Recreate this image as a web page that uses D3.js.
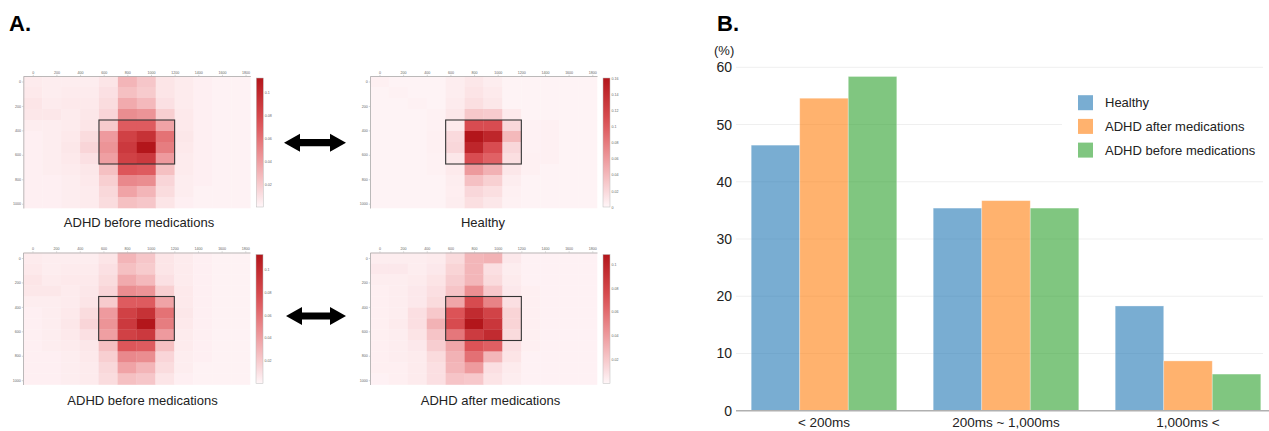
<!DOCTYPE html>
<html>
<head>
<meta charset="utf-8">
<script src="https://cdn.jsdelivr.net/npm/d3@7"></script>
<style>
  body { margin: 0; background: #fff; }
  svg { display: block; font-family: "Liberation Sans", Arial, sans-serif; }
</style>
</head>
<body>
<svg id="fig" width="1269" height="431"></svg>
<script>
// ---------- data: panel B ----------
const categories = ["< 200ms", "200ms ~ 1,000ms", "1,000ms <"];
const seriesNames = ["Healthy", "ADHD after medications", "ADHD before medications"];
const healthyPct = [46.4, 35.4, 18.3];
const afterPct = [54.6, 36.7, 8.7];
const beforePct = [58.4, 35.4, 6.4];
const yTicks = [0, 10, 20, 30, 40, 50, 60];

// ---------- data: panel A (12 x 12 gaze heatmaps, rows top->bottom) ----------
const heatXTicks = [0, 200, 400, 600, 800, 1000, 1200, 1400, 1600, 1800];
const heatYTicks = [0, 200, 400, 600, 800, 1000];

const beforeMeds = [
  [0.005, 0.004, 0.004, 0.004, 0.008, 0.030, 0.022, 0.008, 0.005, 0.003, 0.002, 0.002],
  [0.006, 0.004, 0.005, 0.005, 0.010, 0.025, 0.020, 0.008, 0.005, 0.003, 0.002, 0.002],
  [0.008, 0.005, 0.006, 0.006, 0.012, 0.035, 0.028, 0.010, 0.005, 0.003, 0.002, 0.002],
  [0.007, 0.007, 0.005, 0.007, 0.015, 0.048, 0.045, 0.018, 0.006, 0.003, 0.002, 0.002],
  [0.004, 0.004, 0.005, 0.008, 0.020, 0.070, 0.070, 0.038, 0.006, 0.003, 0.002, 0.002],
  [0.003, 0.004, 0.006, 0.012, 0.042, 0.085, 0.095, 0.060, 0.007, 0.003, 0.002, 0.002],
  [0.003, 0.004, 0.007, 0.015, 0.045, 0.090, 0.113, 0.055, 0.006, 0.003, 0.002, 0.002],
  [0.003, 0.004, 0.006, 0.010, 0.040, 0.085, 0.090, 0.042, 0.005, 0.003, 0.002, 0.002],
  [0.003, 0.004, 0.005, 0.007, 0.025, 0.072, 0.070, 0.025, 0.005, 0.003, 0.002, 0.002],
  [0.003, 0.003, 0.004, 0.006, 0.018, 0.050, 0.048, 0.015, 0.004, 0.003, 0.002, 0.002],
  [0.003, 0.003, 0.004, 0.005, 0.014, 0.038, 0.030, 0.012, 0.004, 0.002, 0.002, 0.002],
  [0.003, 0.003, 0.004, 0.005, 0.012, 0.025, 0.022, 0.008, 0.003, 0.002, 0.002, 0.002]
];

const healthy = [
  [0.004, 0.002, 0.002, 0.002, 0.006, 0.010, 0.006, 0.002, 0.002, 0.002, 0.002, 0.002],
  [0.002, 0.003, 0.002, 0.002, 0.006, 0.012, 0.008, 0.002, 0.002, 0.002, 0.002, 0.002],
  [0.002, 0.002, 0.003, 0.002, 0.007, 0.015, 0.010, 0.002, 0.002, 0.002, 0.002, 0.002],
  [0.002, 0.002, 0.002, 0.003, 0.010, 0.030, 0.028, 0.008, 0.002, 0.002, 0.002, 0.002],
  [0.002, 0.002, 0.002, 0.003, 0.008, 0.110, 0.110, 0.020, 0.003, 0.004, 0.002, 0.002],
  [0.002, 0.002, 0.002, 0.004, 0.018, 0.160, 0.145, 0.040, 0.003, 0.004, 0.002, 0.002],
  [0.002, 0.002, 0.002, 0.004, 0.020, 0.145, 0.110, 0.020, 0.003, 0.004, 0.002, 0.002],
  [0.002, 0.002, 0.002, 0.003, 0.010, 0.110, 0.095, 0.015, 0.004, 0.004, 0.002, 0.002],
  [0.002, 0.002, 0.002, 0.003, 0.008, 0.060, 0.045, 0.010, 0.004, 0.002, 0.002, 0.002],
  [0.002, 0.002, 0.002, 0.002, 0.006, 0.035, 0.025, 0.006, 0.002, 0.002, 0.002, 0.002],
  [0.002, 0.002, 0.002, 0.002, 0.005, 0.020, 0.015, 0.004, 0.002, 0.002, 0.002, 0.002],
  [0.002, 0.002, 0.002, 0.002, 0.006, 0.015, 0.010, 0.003, 0.002, 0.002, 0.002, 0.002]
];

const afterMeds = [
  [0.004, 0.004, 0.004, 0.005, 0.012, 0.028, 0.030, 0.006, 0.002, 0.002, 0.002, 0.002],
  [0.006, 0.006, 0.004, 0.006, 0.015, 0.028, 0.010, 0.004, 0.002, 0.002, 0.002, 0.002],
  [0.004, 0.004, 0.005, 0.008, 0.018, 0.028, 0.012, 0.005, 0.002, 0.002, 0.002, 0.002],
  [0.003, 0.004, 0.006, 0.010, 0.022, 0.045, 0.020, 0.006, 0.003, 0.002, 0.002, 0.002],
  [0.003, 0.004, 0.006, 0.012, 0.035, 0.075, 0.050, 0.010, 0.003, 0.002, 0.002, 0.002],
  [0.003, 0.004, 0.010, 0.020, 0.070, 0.095, 0.080, 0.015, 0.003, 0.002, 0.002, 0.002],
  [0.003, 0.005, 0.010, 0.030, 0.075, 0.108, 0.088, 0.015, 0.003, 0.002, 0.002, 0.002],
  [0.003, 0.004, 0.008, 0.022, 0.055, 0.085, 0.095, 0.012, 0.003, 0.002, 0.002, 0.002],
  [0.003, 0.004, 0.006, 0.018, 0.035, 0.070, 0.065, 0.010, 0.003, 0.002, 0.002, 0.002],
  [0.003, 0.004, 0.005, 0.012, 0.030, 0.058, 0.028, 0.008, 0.002, 0.002, 0.002, 0.002],
  [0.003, 0.003, 0.005, 0.010, 0.028, 0.040, 0.010, 0.005, 0.002, 0.002, 0.002, 0.002],
  [0.002, 0.003, 0.005, 0.010, 0.022, 0.020, 0.008, 0.004, 0.002, 0.002, 0.002, 0.002]
];

const cbTicksADHD = [0.02, 0.04, 0.06, 0.08, 0.1];
const cbTicksHealthy = [0, 0.02, 0.04, 0.06, 0.08, 0.1, 0.12, 0.14, 0.16];

const svg = d3.select("#fig");

// ---------- panel letters ----------
svg.append("text").attr("x", 9).attr("y", 31)
    .attr("font-size", 22).attr("font-weight", "bold").text("A.");
svg.append("text").attr("x", 717).attr("y", 31)
    .attr("font-size", 22).attr("font-weight", "bold").text("B.");

// ---------- panel A ----------
const heatW = 227, heatH = 132;
const cellW = 160, cellH = 90;   // screen pixels per cell (1920 x 1080 / 12)

const redRamp = d3.scaleLinear()
    .domain([0, 0.35, 0.65, 1])
    .range(["#fff6f8", "#efa0a3", "#dc5357", "#b3161b"])
    .interpolate(d3.interpolateRgb);

let gradId = 0;

function drawHeatmap(left, top, matrix, cmax, cbTicks, title, titleX, titleY) {
    const g = svg.append("g").attr("transform", `translate(${left}, ${top})`);

    const x = d3.scaleLinear().domain([-80, 1840]).range([0, heatW]);
    const y = d3.scaleLinear().domain([-45, 1035]).range([0, heatH]);
    const color = v => redRamp(Math.min(1, v / cmax));

    const cells = [];
    matrix.forEach((row, r) => row.forEach((v, c) => cells.push({ r, c, v })));

    g.selectAll("rect.cell")
        .data(cells)
        .enter()
        .append("rect")
        .attr("class", "cell")
        .attr("x", d => x(-80 + d.c * cellW))
        .attr("y", d => y(-45 + d.r * cellH))
        .attr("width", x(cellW) - x(0) + 0.3)
        .attr("height", y(cellH) - y(0) + 0.3)
        .attr("fill", d => color(d.v));

    // axes (tiny labels)
    const xAxis = g.append("g")
        .call(d3.axisTop(x).tickValues(heatXTicks).tickFormat(d3.format("d"))
            .tickSize(1.2).tickPadding(1).tickSizeOuter(0));
    const yAxis = g.append("g")
        .call(d3.axisLeft(y).tickValues(heatYTicks).tickFormat(d3.format("d"))
            .tickSize(1.2).tickPadding(1).tickSizeOuter(0));
    [xAxis, yAxis].forEach(a => {
        a.select(".domain").attr("stroke", "#aaa").attr("stroke-width", 0.8);
        a.selectAll(".tick line").attr("stroke", "#aaa").attr("stroke-width", 0.5);
        a.selectAll("text").attr("font-size", 3.6).attr("fill", "#666")
            .attr("font-family", "Liberation Sans, Arial, sans-serif");
    });

    // area of interest box
    g.append("rect")
        .attr("x", x(560)).attr("y", y(315))
        .attr("width", x(1200) - x(560)).attr("height", y(675) - y(315))
        .attr("fill", "none").attr("stroke", "#333").attr("stroke-width", 1.1);

    // colour bar
    const cbX = heatW + 6, cbW = 7;
    const cb = d3.scaleLinear().domain([0, cmax]).range([heatH - 1, 2]);
    const id = "grad" + (gradId++);
    const grad = svg.append("defs").append("linearGradient")
        .attr("id", id).attr("x1", 0).attr("y1", 1).attr("x2", 0).attr("y2", 0);
    d3.range(0, 1.0001, 0.1).forEach(t => {
        grad.append("stop").attr("offset", t).attr("stop-color", redRamp(t));
    });
    g.append("rect")
        .attr("x", cbX).attr("y", cb(cmax))
        .attr("width", cbW).attr("height", cb(0) - cb(cmax))
        .attr("fill", `url(#${id})`)
        .attr("stroke", "#bbb").attr("stroke-width", 0.5);
    const cbAxis = g.append("g")
        .attr("transform", `translate(${cbX + cbW}, 0)`)
        .call(d3.axisRight(cb).tickValues(cbTicks).tickSize(0).tickPadding(1.5)
            .tickFormat(d => String(+d.toFixed(2))));
    cbAxis.select(".domain").remove();
    cbAxis.selectAll("text").attr("font-size", 3.6).attr("fill", "#666")
        .attr("font-family", "Liberation Sans, Arial, sans-serif");

    svg.append("text")
        .attr("x", titleX).attr("y", titleY)
        .attr("text-anchor", "middle")
        .attr("font-size", 13).attr("fill", "#222")
        .text(title);
}

drawHeatmap(23.3, 76, beforeMeds, 0.113, cbTicksADHD, "ADHD before medications", 139, 227);
drawHeatmap(370, 76, healthy, 0.16, cbTicksHealthy, "Healthy", 483, 227);
drawHeatmap(23, 252.5, beforeMeds, 0.113, cbTicksADHD, "ADHD before medications", 142.5, 405);
drawHeatmap(370, 252.5, afterMeds, 0.108, cbTicksADHD, "ADHD after medications", 490.5, 405);

// double-headed arrows
function doubleArrow(x0, x1, cy) {
    const hl = 16, hh = 9, sh = 3.6;
    const pts = [
        [x0, cy], [x0 + hl, cy - hh], [x0 + hl, cy - sh], [x1 - hl, cy - sh],
        [x1 - hl, cy - hh], [x1, cy], [x1 - hl, cy + hh], [x1 - hl, cy + sh],
        [x0 + hl, cy + sh], [x0 + hl, cy + hh]
    ];
    svg.append("path")
        .attr("d", d3.line()(pts) + "Z")
        .attr("fill", "#000");
}
doubleArrow(284, 346, 142.7);
doubleArrow(286, 346, 316);

// ---------- panel B ----------
const barData = categories.map((c, i) => ({
    category: c,
    values: [healthyPct[i], afterPct[i], beforePct[i]]
}));

const xB = d3.scaleBand().domain(categories).range([733, 1279])
    .paddingInner(0.2).paddingOuter(0.1);
const xSub = d3.scaleBand().domain(seriesNames).range([0, xB.bandwidth()]);
const yB = d3.scaleLinear().domain([0, 60]).range([410.7, 67.3]);
const barColor = d3.scaleOrdinal().domain(seriesNames)
    .range(["#1f77b4", "#ff7f0e", "#2ca02c"]);

const gridLeft = 736, gridRight = 1263;

// gridlines
svg.append("g").selectAll("line")
    .data(yTicks.filter(t => t > 0))
    .enter()
    .append("line")
    .attr("x1", gridLeft).attr("x2", gridRight)
    .attr("y1", d => yB(d)).attr("y2", d => yB(d))
    .attr("stroke", "#efefef").attr("stroke-width", 1);

// y tick labels
const yAxisB = svg.append("g")
    .attr("transform", `translate(${gridLeft}, 0)`)
    .call(d3.axisLeft(yB).tickValues(yTicks).tickSize(0).tickPadding(4));
yAxisB.select(".domain").remove();
yAxisB.selectAll("text").attr("font-size", 14).attr("fill", "#222")
    .attr("font-family", "Liberation Sans, Arial, sans-serif");

svg.append("text").attr("x", 714).attr("y", 55)
    .attr("font-size", 13).attr("fill", "#222").text("(%)");

// bars
const groups = svg.append("g").selectAll("g")
    .data(barData)
    .enter()
    .append("g")
    .attr("transform", d => `translate(${xB(d.category)}, 0)`);

groups.selectAll("rect")
    .data(d => d.values.map((v, i) => ({ name: seriesNames[i], value: v })))
    .enter()
    .append("rect")
    .attr("x", d => xSub(d.name))
    .attr("y", d => yB(d.value))
    .attr("width", xSub.bandwidth())
    .attr("height", d => yB(0) - yB(d.value))
    .attr("fill", d => barColor(d.name))
    .attr("fill-opacity", 0.6)
    .attr("stroke", "#fff").attr("stroke-opacity", 0.4).attr("stroke-width", 0.8);

// baseline
svg.append("line")
    .attr("x1", gridLeft).attr("x2", 1269)
    .attr("y1", yB(0)).attr("y2", yB(0))
    .attr("stroke", "#b0b0b0").attr("stroke-width", 1.5);

// x labels
svg.append("g").selectAll("text")
    .data(categories)
    .enter()
    .append("text")
    .attr("x", d => xB(d) + xB.bandwidth() / 2)
    .attr("y", 427)
    .attr("text-anchor", "middle")
    .attr("font-size", 13.5).attr("fill", "#222")
    .text(d => d);

// legend
const legend = svg.append("g");
legend.append("rect")
    .attr("x", 1062).attr("y", 88).attr("width", 204).attr("height", 74)
    .attr("fill", "#fff");
const legendItems = legend.selectAll("g.item")
    .data(seriesNames)
    .enter()
    .append("g")
    .attr("class", "item")
    .attr("transform", (d, i) => `translate(1078, ${102.7 + i * 23.7})`);
legendItems.append("rect")
    .attr("x", 0).attr("y", -7.5).attr("width", 15).attr("height", 15)
    .attr("fill", d => barColor(d)).attr("fill-opacity", 0.6);
legendItems.append("text")
    .attr("x", 27).attr("y", 0).attr("dy", "0.35em")
    .attr("font-size", 13).attr("fill", "#222")
    .text(d => d);
</script>
</body>
</html>
